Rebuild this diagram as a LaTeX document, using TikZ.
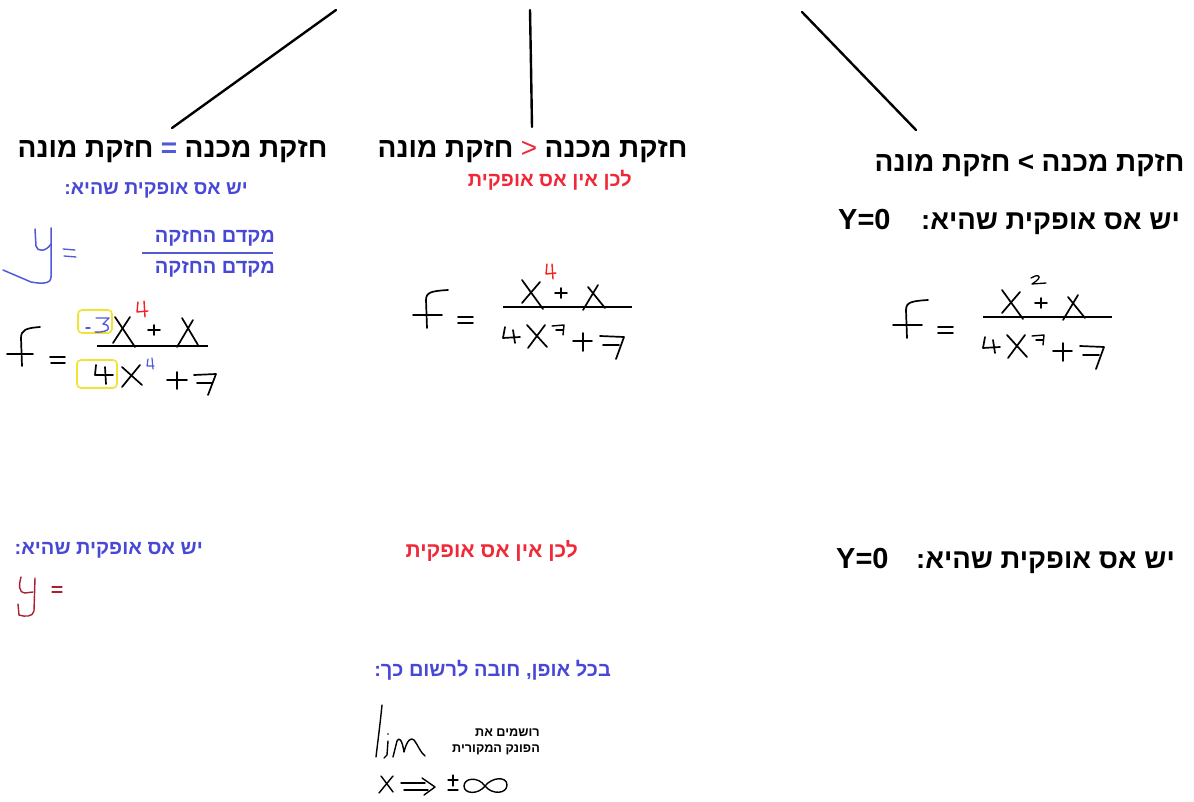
\documentclass[tikz,border=0pt]{standalone}
\usepackage{fontspec}
\TeXXeTstate=1
\newfontfamily\heb[Script=Hebrew]{Liberation Sans}
\definecolor{hwblue}{RGB}{80,90,215}
\definecolor{txtblue}{RGB}{72,72,215}
\definecolor{txtred}{RGB}{240,40,55}
\definecolor{hwred}{RGB}{250,30,30}
\definecolor{darkred}{RGB}{170,30,50}
\definecolor{yel}{RGB}{240,228,50}
\tikzset{
  hdr/.style={inner sep=0pt, font=\heb\bfseries\fontsize{28}{32}\selectfont},
  yzero/.style={inner sep=0pt, font=\heb\bfseries\fontsize{29}{33}\selectfont},
  subt/.style={inner sep=0pt, font=\heb\bfseries\fontsize{19.5}{23}\selectfont},
  smallt/.style={inner sep=0pt, font=\heb\bfseries\fontsize{12.7}{15}\selectfont},
  ink/.style={line width=1.7pt, line cap=round, line join=round},
  fracline/.style={line width=1.8pt},
  topline/.style={line width=2.4pt, line cap=round},
  ybox/.style={draw=yel, line width=1.6pt, rounded corners=4pt}
}
\newcommand{\midfrac}{%
  % f
  \draw[ink] (427,328) -- (426,300) .. controls (426,292) and (432,291) .. (448,290);
  \draw[ink] (413,315) -- (442,315);
  % =
  \draw[ink] (458,317) -- (473,317);
  \draw[ink] (458,323) -- (473,323);
  % fraction line
  \draw[fracline] (503,307) -- (632,307);
  % numerator X + X
  \draw[ink] (522,280) -- (543,309);
  \draw[ink] (540,282) -- (522,303);
  \draw[ink] (555,293) -- (567,293);
  \draw[ink] (561,288) -- (561,298);
  \draw[ink] (588,287) -- (605,308);
  \draw[ink] (598,285) -- (583,310);
  % denominator 4X^3 + 7
  \draw[ink] (505,327) -- (503,338) -- (520,337);
  \draw[ink] (513,330) -- (515,343);
  \draw[ink] (527,325) -- (547,347);
  \draw[ink] (545,325) -- (528,348);
  \draw[ink, line width=1.4pt] (552,326) -- (564,325) -- (563,335);
  \draw[ink, line width=1.4pt] (556,330) -- (563,330);
  \draw[ink] (573,341) -- (592,341);
  \draw[ink] (583,333) -- (583,351);
  \draw[ink] (600,336) -- (624,337) -- (616,359);
  \draw[ink] (603,345) -- (619,345);
}
\begin{document}
\begin{tikzpicture}[x=1pt,y=-1pt]
\useasboundingbox (0,0) rectangle (1194,802);
\fill[white] (0,0) rectangle (1194,802);

% ---------- top connectors ----------
\coordinate (t1) at (336,10);
\coordinate (b1) at (172,128);
\coordinate (t2) at (530,10);
\coordinate (m2) at (531,66);
\coordinate (b2) at (532,127);
\coordinate (t3) at (802,12);
\coordinate (b3) at (916,130);
\draw[topline] (t1) -- (b1);
\draw[topline] (t2) -- (m2) -- (b2);
\draw[topline] (t3) -- (b3);

% ---------- headers ----------
\node[hdr, anchor=base, text=hwblue] (h1s) at (169,158) {=};
\node[hdr, anchor=base east] (h1l) at ([xshift=-7pt]h1s.base west) {\beginR חזקת מונה\endR};
\node[hdr, anchor=base west] (h1r) at ([xshift=7pt]h1s.base east) {\beginR חזקת מכנה\endR};

\node[hdr, anchor=base, text=txtred, font=\heb\fontsize{28}{32}\selectfont] (h2s) at (529,158) {<};
\node[hdr, anchor=base east] (h2l) at ([xshift=-7pt]h2s.base west) {\beginR חזקת מונה\endR};
\node[hdr, anchor=base west] (h2r) at ([xshift=7pt]h2s.base east) {\beginR חזקת מכנה\endR};

\node[hdr, anchor=base] (h3s) at (1026,172) {>};
\node[hdr, anchor=base east] (h3l) at ([xshift=-7pt]h3s.base west) {\beginR חזקת מונה\endR};
\node[hdr, anchor=base west] (h3r) at ([xshift=7pt]h3s.base east) {\beginR חזקת מכנה\endR};

% ---------- sub titles ----------
\node[subt, anchor=base east, text=txtblue] (s1) at (248,195) {\beginR יש אס אופקית שהיא:\endR};
\node[subt, anchor=base east, text=txtred, font=\heb\bfseries\fontsize{20}{24}\selectfont] (s2) at (632,187) {\beginR לכן אין אס אופקית\endR};
\node[hdr, anchor=base east, font=\heb\bfseries\fontsize{27.5}{32}\selectfont] (s3) at (1180,230) {\beginR יש אס אופקית שהיא:\endR};
\node[yzero, anchor=base west] (s3y) at (838,230) {Y=0};

% ---------- left column: y = leading coefficient ratio ----------
\draw[ink, hwblue, line width=1.5pt] (35,229) -- (36,246) .. controls (37,252) and (46,252) .. (51,244);
\draw[ink, hwblue, line width=1.5pt] (51,228) -- (51,277) .. controls (51,284) and (42,284) .. (31,282) -- (3,270);
\draw[ink, hwblue, line width=1.3pt] (63,249) -- (75,250);
\draw[ink, hwblue, line width=1.3pt] (64,256) -- (76,257);
\node[subt, anchor=base east, text=txtblue, font=\heb\bfseries\fontsize{20}{24}\selectfont] (c1) at (275,243) {\beginR מקדם החזקה\endR};
\draw[line width=1.5pt, hwblue] (142,253) -- (273,253);
\node[subt, anchor=base east, text=txtblue, font=\heb\bfseries\fontsize{20}{24}\selectfont] (c2) at (275,274) {\beginR מקדם החזקה\endR};

% left fraction f = (-3X^4 + X)/(4X^4 + 7)
\draw[ink] (22,366) -- (21,338) .. controls (21,330) and (26,328) .. (40,327);
\draw[ink] (7,354) -- (33,354);
\draw[ink] (50,357) -- (65,357);
\draw[ink] (51,363) -- (65,363);
\draw[ybox] (78,310) rectangle (112,333);
\draw[ink, hwblue, line width=1.4pt] (86,328) -- (90,328);
\draw[ink, hwblue, line width=1.4pt] (96,318) -- (109,318) -- (103,324) .. controls (112,325) and (111,333) .. (95,332);
\draw[ink] (115,317) -- (135,347);
\draw[ink] (130,317) -- (113,343);
\draw[ink, hwred, line width=1.4pt] (138,302) -- (137,312) -- (148,311);
\draw[ink, hwred, line width=1.4pt] (144,301) -- (145,317);
\draw[ink] (148,330) -- (160,330);
\draw[ink] (154,325) -- (154,335);
\draw[ink] (182,318) -- (198,345);
\draw[ink] (193,320) -- (177,347);
\draw[fracline] (97,346) -- (208,346);
\draw[ybox] (77,360) rectangle (117,388);
\draw[ink] (96,365) -- (95,375) -- (113,375);
\draw[ink] (105,367) -- (106,384);
\draw[ink] (122,367) -- (142,385);
\draw[ink] (140,365) -- (122,387);
\draw[ink, hwblue, line width=1.2pt] (148,359) -- (147,366) -- (154,366);
\draw[ink, hwblue, line width=1.2pt] (152,358) -- (153,369);
\draw[ink] (167,380) -- (187,380);
\draw[ink] (177,372) -- (177,389);
\draw[ink] (194,375) -- (216,374) -- (208,395);
\draw[ink] (197,383) -- (212,383);

% ---------- middle fraction ----------
\midfrac
\draw[ink, hwred, line width=1.4pt] (547,264) -- (546,274) -- (556,273);
\draw[ink, hwred, line width=1.4pt] (552,264) -- (553,279);

% ---------- right fraction ----------
\begin{scope}[shift={(480,10)}]
\midfrac
\end{scope}
\draw[ink, line width=1.3pt] (1031,278) .. controls (1036,274) and (1046,275) .. (1032,284) -- (1046,283);

% ---------- bottom row ----------
\node[subt, anchor=base east, text=txtblue, font=\heb\bfseries\fontsize{20}{24}\selectfont] (bl) at (203,554) {\beginR יש אס אופקית שהיא:\endR};
\draw[ink, darkred, line width=1.4pt] (21,577) .. controls (19,585) and (18,592) .. (25,593) -- (33,592);
\draw[ink, darkred, line width=1.4pt] (35,578) -- (34,611) .. controls (33,617) and (25,617) .. (19,615) -- (18,604);
\draw[ink, darkred, line width=1.2pt] (52,587) -- (62,587);
\draw[ink, darkred, line width=1.2pt] (52,592) -- (62,592);

\node[subt, anchor=base east, text=txtred, font=\heb\bfseries\fontsize{21}{25}\selectfont] (bm) at (578,557) {\beginR לכן אין אס אופקית\endR};
\node[hdr, anchor=base east, font=\heb\bfseries\fontsize{27.5}{32}\selectfont] (br) at (1175,568) {\beginR יש אס אופקית שהיא:\endR};
\node[yzero, anchor=base west] (bry) at (836,568) {Y=0};

\node[subt, anchor=base east, text=txtblue, font=\heb\bfseries\fontsize{20}{24}\selectfont] (any) at (611,676) {\beginR בכל אופן, חובה לרשום כך:\endR};

% lim
\draw[ink, line width=1.4pt] (382,705) .. controls (380,725) and (378,740) .. (376,757);
\draw[ink, line width=1.4pt] (388,741) -- (387,755) -- (384,758);
\fill (388,734) circle (0.8pt);
\draw[ink, line width=1.4pt] (393,757) -- (397,741) .. controls (399,737) and (402,739) .. (404,752) .. controls (407,740) and (411,737) .. (414,740) .. controls (418,745) and (420,752) .. (425,756);
\node[smallt, anchor=base east] (n1) at (540,736) {\beginR רושמים את\endR};
\node[smallt, anchor=base east] (n2) at (540,752) {\beginR הפונק המקורית\endR};
% x -> +-infinity
\draw[ink, line width=1.4pt] (381,776) -- (393,792);
\draw[ink, line width=1.4pt] (393,776) -- (379,793);
\draw[ink, line width=1.4pt] (401,783) -- (425,783);
\draw[ink, line width=1.4pt] (404,790) -- (428,790);
\draw[ink, line width=1.4pt] (422,778) -- (435,787) -- (424,795);
\draw[ink, line width=1.3pt] (448,780) -- (458,780);
\draw[ink, line width=1.3pt] (453,775) -- (453,786);
\draw[ink, line width=1.3pt] (448,790) -- (458,790);
\draw[ink, line width=1.4pt] (485,786) .. controls (478,776) and (464,778) .. (464,786) .. controls (464,794) and (478,795) .. (485,786) .. controls (492,777) and (507,776) .. (507,785) .. controls (507,794) and (492,795) .. (485,786);
\end{tikzpicture}
\end{document}
